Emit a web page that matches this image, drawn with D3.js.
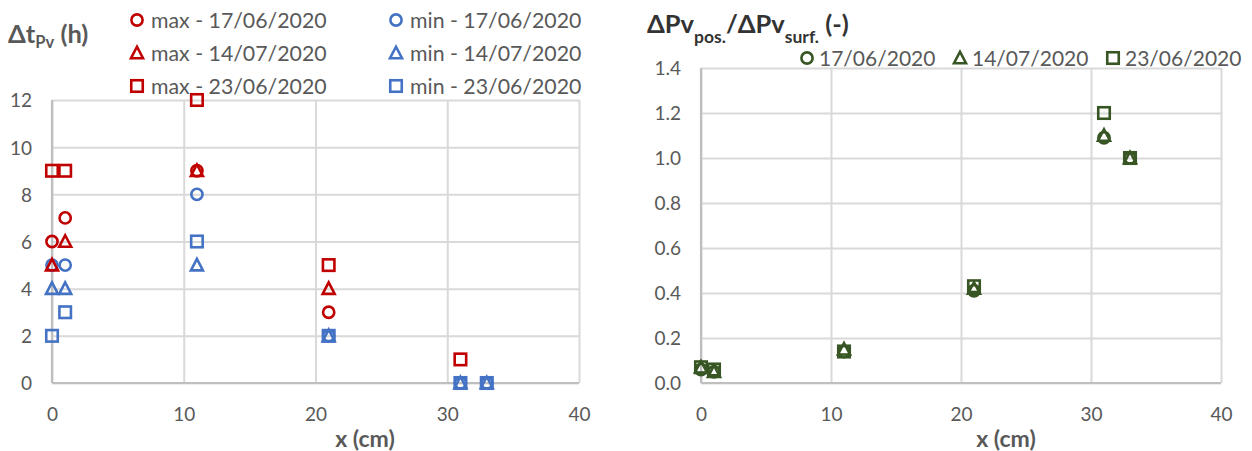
<!DOCTYPE html>
<html>
<head>
<meta charset="utf-8">
<script src="https://cdn.jsdelivr.net/npm/d3@7"></script>
<style>
  html, body { margin: 0; padding: 0; background: #ffffff; }
  svg { display: block; }
  text { font-family: Lato, "Open Sans", sans-serif; }
</style>
</head>
<body>
<svg id="chart" width="1252" height="451"></svg>
<script>
// Measurement positions (cm)
const positions = [0, 1, 11, 21, 31, 33];

// Left panel: time shift of Pv extremes (h); null = no point
const max1706 = [6, 7, 9, 3, null, null];
const min1706 = [5, 5, 8, 2, 0, 0];
const max1407 = [5, 6, 9, 4, null, null];
const min1407 = [4, 4, 5, 2, 0, 0];
const max2306 = [9, 9, 12, 5, 1, null];
const min2306 = [2, 3, 6, 2, 0, 0];

// Right panel: amplitude ratio ΔPv(pos.) / ΔPv(surf.)
const ratio1706 = [0.06, 0.05, 0.14, 0.41, 1.09, 1.00];
const ratio1407 = [0.07, 0.05, 0.15, 0.42, 1.10, 1.00];
const ratio2306 = [0.07, 0.06, 0.14, 0.43, 1.20, 1.00];

const xTicks = [0, 10, 20, 30, 40];
const leftYTicks = [0, 2, 4, 6, 8, 10, 12];
const rightYTicks = [0, 0.2, 0.4, 0.6, 0.8, 1.0, 1.2, 1.4];

const RED = "#c00000", BLUE = "#4472c4", GREEN = "#375623";
const GRID = "#d9d9d9", AXIS = "#bfbfbf", LABEL = "#595959";

const svg = d3.select("#chart");

function marker(g, shape, cx, cy, color) {
  const sw = 2.6;
  if (shape === "circle") {
    g.append("circle").attr("cx", cx).attr("cy", cy).attr("r", 5.6)
      .attr("fill", "none").attr("stroke", color).attr("stroke-width", sw);
  } else if (shape === "square") {
    const s = 11.5;
    g.append("rect").attr("x", cx - s / 2).attr("y", cy - s / 2)
      .attr("width", s).attr("height", s)
      .attr("fill", "none").attr("stroke", color).attr("stroke-width", sw);
  } else {
    const h = 10.5, w = 12;
    g.append("path")
      .attr("d", `M${cx},${cy - h / 2 - 1}L${cx + w / 2},${cy + h / 2}L${cx - w / 2},${cy + h / 2}Z`)
      .attr("fill", "none").attr("stroke", color).attr("stroke-width", sw)
      .attr("stroke-linejoin", "miter");
  }
}

function panel(opts) {
  const x = d3.scaleLinear().domain([0, 40]).range([opts.x0, opts.x1]);
  const y = d3.scaleLinear().domain(opts.yDomain).range([opts.y0, opts.y1]);
  const g = svg.append("g");

  // gridlines
  const gx = g.append("g").attr("transform", `translate(0,${opts.y0})`)
    .call(d3.axisBottom(x).tickValues(xTicks).tickSize(-(opts.y0 - opts.y1)).tickFormat(""));
  gx.select(".domain").remove();
  gx.selectAll("line").attr("stroke", GRID).attr("stroke-width", 2);

  const gy = g.append("g").attr("transform", `translate(${opts.x0},0)`)
    .call(d3.axisLeft(y).tickValues(opts.yTicks).tickSize(-(opts.x1 - opts.x0)).tickFormat(""));
  gy.select(".domain").remove();
  gy.selectAll("line").attr("stroke", GRID).attr("stroke-width", 2);

  // axis lines
  g.append("line").attr("x1", opts.x0).attr("x2", opts.x1)
    .attr("y1", y(opts.yDomain[0])).attr("y2", y(opts.yDomain[0]))
    .attr("stroke", AXIS).attr("stroke-width", 2.2);
  g.append("line").attr("x1", x(0)).attr("x2", x(0))
    .attr("y1", opts.y0).attr("y2", opts.y1)
    .attr("stroke", AXIS).attr("stroke-width", 2.2);

  // tick labels
  const tx = g.append("g").attr("transform", `translate(0,${opts.y0 + 24})`)
    .call(d3.axisBottom(x).tickValues(xTicks).tickSize(0).tickFormat(d3.format("d")));
  tx.select(".domain").remove();
  tx.selectAll("text").attr("fill", LABEL).attr("font-size", 19)
    .attr("font-family", "Lato, sans-serif").attr("dy", "0.71em").attr("y", 0);

  const ty = g.append("g").attr("transform", `translate(${opts.x0 - 20},0)`)
    .call(d3.axisLeft(y).tickValues(opts.yTicks).tickSize(0).tickFormat(opts.yFormat));
  ty.select(".domain").remove();
  ty.selectAll("text").attr("fill", LABEL).attr("font-size", 19)
    .attr("font-family", "Lato, sans-serif").attr("x", 0).attr("dy", "0.36em");

  // x axis title
  g.append("text").attr("x", opts.xTitleX).attr("y", 447)
    .attr("text-anchor", "middle").attr("font-size", 23).attr("font-weight", "bold")
    .attr("fill", LABEL).text("x (cm)");

  // data
  const pts = g.append("g");
  opts.series.forEach(s => {
    s.values.forEach((v, i) => {
      if (v === null) return;
      marker(pts, s.shape, x(positions[i]), y(v), s.color);
    });
  });
  return { x, y, g };
}

// ---- Left panel ----
panel({
  x0: 52, x1: 579, y0: 383, y1: 100,
  yDomain: [0, 12], yTicks: leftYTicks, yFormat: d3.format("d"),
  xTitleX: 365,
  series: [
    { values: max1706, shape: "circle", color: RED },
    { values: min1706, shape: "circle", color: BLUE },
    { values: max1407, shape: "triangle", color: RED },
    { values: min1407, shape: "triangle", color: BLUE },
    { values: max2306, shape: "square", color: RED },
    { values: min2306, shape: "square", color: BLUE }
  ]
});

// left title: Δt_Pv (h)
const lt = svg.append("text").attr("x", 8).attr("y", 43)
  .attr("font-size", 25.5).attr("font-weight", "bold").attr("fill", LABEL);
lt.append("tspan").text("Δt");
lt.append("tspan").attr("font-size", 16.5).attr("dy", 5).text("Pv");
lt.append("tspan").attr("dy", -5).text(" (h)");

// left legend (two columns)
const leftLegend = [
  { label: "max - 17/06/2020", shape: "circle", color: RED, col: 0, row: 0 },
  { label: "min - 17/06/2020", shape: "circle", color: BLUE, col: 1, row: 0 },
  { label: "max - 14/07/2020", shape: "triangle", color: RED, col: 0, row: 1 },
  { label: "min - 14/07/2020", shape: "triangle", color: BLUE, col: 1, row: 1 },
  { label: "max - 23/06/2020", shape: "square", color: RED, col: 0, row: 2 },
  { label: "min - 23/06/2020", shape: "square", color: BLUE, col: 1, row: 2 }
];
const llg = svg.append("g");
leftLegend.forEach(d => {
  const mx = d.col === 0 ? 137 : 396;
  const my = 20 + d.row * 33;
  marker(llg, d.shape, mx, my, d.color);
  llg.append("text").attr("x", mx + 14).attr("y", my).attr("dy", "0.36em")
    .attr("font-size", 21.3).attr("fill", LABEL).text(d.label);
});

// ---- Right panel ----
panel({
  x0: 701, x1: 1221, y0: 383, y1: 68,
  yDomain: [0, 1.4], yTicks: rightYTicks, yFormat: d3.format(".1f"),
  xTitleX: 1006,
  series: [
    { values: ratio1706, shape: "circle", color: GREEN },
    { values: ratio1407, shape: "triangle", color: GREEN },
    { values: ratio2306, shape: "square", color: GREEN }
  ]
});

// right title: ΔPv_pos./ΔPv_surf. (-)
const rt = svg.append("text").attr("x", 647).attr("y", 33)
  .attr("font-size", 25.5).attr("font-weight", "bold").attr("fill", "#333333");
rt.append("tspan").text("ΔPv");
rt.append("tspan").attr("font-size", 17.5).attr("dy", 10).text("pos.");
rt.append("tspan").attr("dy", -10).text("/ΔPv");
rt.append("tspan").attr("font-size", 17.5).attr("dy", 10).text("surf.");
rt.append("tspan").attr("dy", -10).text(" (-)");

// right legend (single row)
const rightLegend = [
  { label: "17/06/2020", shape: "circle", x: 807 },
  { label: "14/07/2020", shape: "triangle", x: 960 },
  { label: "23/06/2020", shape: "square", x: 1113 }
];
const rlg = svg.append("g");
rightLegend.forEach(d => {
  marker(rlg, d.shape, d.x, 58, GREEN);
  rlg.append("text").attr("x", d.x + 12).attr("y", 58).attr("dy", "0.36em")
    .attr("font-size", 21).attr("fill", LABEL).text(d.label);
});
</script>
</body>
</html>
